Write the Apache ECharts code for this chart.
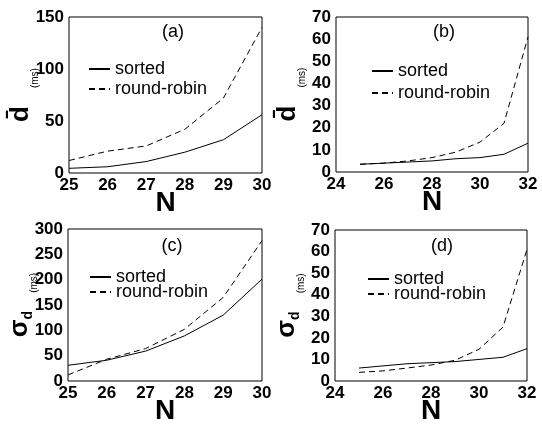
<!DOCTYPE html>
<html>
<head>
<meta charset="utf-8">
<script src="https://cdn.jsdelivr.net/npm/echarts@6/dist/echarts.min.js"></script>
<style>
  html, body { margin: 0; padding: 0; background: #fff; }
  #main { width: 542px; height: 426px; }
</style>
</head>
<body>
<div id="main"></div>
<script>
// 数据
const nAC = [25, 26, 27, 28, 29, 30];
const nBD = [25, 26, 27, 28, 29, 30, 31, 32];
const sortedA = [4.5, 6, 11, 20, 32, 56];
const rrA = [12, 21, 26, 42, 72, 140];
const sortedB = [3.5, 4, 4.5, 5, 6, 6.5, 8, 13];
const rrB = [3.5, 4, 5, 6.5, 9, 13.5, 22, 61];
const sortedC = [31, 41, 59, 89, 130, 201];
const rrC = [12, 43, 64, 102, 165, 277];
const sortedD = [6, 7, 8, 8.5, 9, 10, 11, 15];
const rrD = [4, 4.7, 6, 7.4, 9.6, 14.7, 25, 61];
const panelTitles = ['(a)', '(b)', '(c)', '(d)'];

(function () {
    let myChart = echarts.init(document.getElementById('main'));
    const font = 'Liberation Sans, Arial, Helvetica, sans-serif';
    const pts = (xs, ys) => xs.map((x, i) => [x, ys[i]]);

    const grids = [
        { left: 69, top: 17, width: 193, height: 156 },
        { left: 336, top: 17, width: 192, height: 155 },
        { left: 68, top: 229, width: 194, height: 155 },
        { left: 335, top: 230, width: 192, height: 155 }
    ];
    grids.forEach(g => {
        g.show = true;
        g.borderColor = '#000';
        g.borderWidth = 1;
        g.backgroundColor = 'transparent';
    });

    const tickLabel = { color: '#000', fontSize: 17, fontWeight: 'bold', fontFamily: font };

    function xAx(i, min, max, step) {
        return {
            type: 'value', gridIndex: i, min: min, max: max, interval: step,
            axisLine: { show: false }, axisTick: { show: false }, splitLine: { show: false },
            axisLabel: Object.assign({ margin: 4 }, tickLabel),
            name: 'N', nameLocation: 'middle', nameGap: 16, nameMoveOverlap: false,
            nameTextStyle: { color: '#000', fontSize: 28, fontWeight: 'bold', fontFamily: font }
        };
    }
    function yAx(i, max, step, name) {
        return {
            type: 'value', gridIndex: i, min: 0, max: max, interval: step,
            axisLine: { show: false }, axisTick: { show: false }, splitLine: { show: false },
            axisLabel: Object.assign({ margin: 5 }, tickLabel),
            name: name, nameLocation: 'middle', nameGap: 29, nameRotate: 90, nameMoveOverlap: false,
            nameTextStyle: {
                color: '#000', fontFamily: font,
                rich: {
                    d: { fontSize: 26, fontWeight: 'bold', color: '#000', fontFamily: font, padding: [0, 0, 6, 0] },
                    sub: { fontSize: 14, fontWeight: 'bold', color: '#000', fontFamily: font, verticalAlign: 'bottom', padding: [0, 0, 4, 0] },
                    ms: { fontSize: 10, color: '#000', fontFamily: font, verticalAlign: 'bottom', padding: [0, 0, 0, 18] }
                }
            }
        };
    }

    const dName = '{d|d\u0304}{ms|(ms)}';
    const sName = '{d|\u03c3}{sub|d}{ms|(ms)}';

    function line(name, i, data, dashed) {
        return {
            name: name, type: 'line', xAxisIndex: i, yAxisIndex: i,
            data: data, symbol: 'none', silent: true,
            lineStyle: { color: '#000', width: 1, type: dashed ? [6, 4] : 'solid' },
            itemStyle: { color: '#000' }
        };
    }

    // 图例：只显示线段，不显示圆点
    function legend(left, top, gap) {
        return {
            left: left, top: top, orient: 'vertical', itemWidth: 21, itemHeight: 10, itemGap: gap,
            selectedMode: false,
            itemStyle: { opacity: 0 },
            textStyle: { fontSize: 18, color: '#000', fontFamily: font },
            data: ['sorted', 'round-robin']
        };
    }

    const titlePos = [[173, 32], [444, 32], [172, 246], [442, 246]];

    let option = {
        animation: false,
        backgroundColor: '#fff',
        grid: grids,
        xAxis: [xAx(0, 25, 30, 1), xAx(1, 24, 32, 2), xAx(2, 25, 30, 1), xAx(3, 24, 32, 2)],
        yAxis: [yAx(0, 150, 50, dName), yAx(1, 70, 10, dName), yAx(2, 300, 50, sName), yAx(3, 70, 10, sName)],
        legend: [legend(83, 55, 2), legend(366, 57, 4), legend(84, 263, -3), legend(362, 265, -3)],
        graphic: panelTitles.map((t, i) => ({
            type: 'text', x: titlePos[i][0], y: titlePos[i][1],
            style: { text: t, textAlign: 'center', textVerticalAlign: 'middle', font: '18px ' + font, fill: '#000' }
        })),
        series: [
            line('sorted', 0, pts(nAC, sortedA), false),
            line('round-robin', 0, pts(nAC, rrA), true),
            line('sorted', 1, pts(nBD, sortedB), false),
            line('round-robin', 1, pts(nBD, rrB), true),
            line('sorted', 2, pts(nAC, sortedC), false),
            line('round-robin', 2, pts(nAC, rrC), true),
            line('sorted', 3, pts(nBD, sortedD), false),
            line('round-robin', 3, pts(nBD, rrD), true)
        ]
    };

    myChart.setOption(option);
    window.addEventListener('resize', function () {
        myChart.resize();
    });
})();
</script>
</body>
</html>
